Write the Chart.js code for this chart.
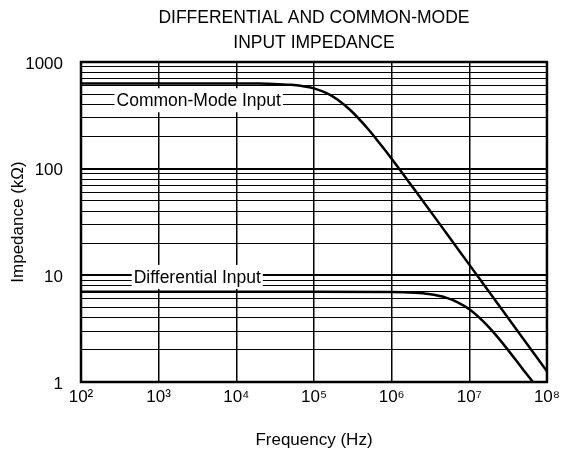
<!DOCTYPE html>
<html><head><meta charset="utf-8">
<script src="https://cdn.jsdelivr.net/npm/chart.js@4.4.1/dist/chart.umd.min.js"></script>
<style>html,body{margin:0;padding:0;background:#fff;}#wrap{width:565px;height:449px;}</style>
</head><body><div id="wrap"><canvas id="c" width="565" height="449"></canvas></div>
<script>
const titleLines = ['DIFFERENTIAL AND COMMON-MODE', 'INPUT IMPEDANCE'];
const xAxisTitle = 'Frequency (Hz)';
const yAxisTitle = 'Impedance (kΩ)';
const xTickValues = [1e2, 1e3, 1e4, 1e5, 1e6, 1e7, 1e8];
const xTickLabels = ['10²', '10³', '10⁴', '10⁵', '10⁶', '10⁷', '10⁸'];
const yTickValues = [1,2,3,4,5,6,7,8,9,10,20,30,40,50,60,70,80,90,100,200,300,400,500,600,700,800,900,1000];
const yMajorValues = [1, 10, 100, 1000];
const yMajorLabels = ['1', '10', '100', '1000'];
const seriesNames = ['Common-Mode Input', 'Differential Input'];
const cmFreq = [1e2, 1e3, 1e4, 2e4, 3e4, 5e4, 7e4, 1e5, 1.5e5, 2e5, 3e5, 5e5, 7e5, 1e6, 2e6, 5e6, 1e7, 2e7, 5e7, 1e8];
const cmZ    = [630, 630, 629, 627, 623, 611, 595, 566, 504, 445, 349, 234, 173, 124, 62.7, 25.2, 12.6, 6.3, 2.52, 1.26];
const diffFreq = [1e2, 1e3, 1e4, 1e5, 1e6, 2e6, 3e6, 5e6, 7e6, 1e7, 1.5e7, 2e7, 3e7, 5e7, 6.6e7];
const diffZ    = [7, 7, 7, 7, 6.96, 6.85, 6.67, 6.18, 5.61, 4.8, 3.72, 2.98, 2.09, 1.29, 1.0];
const labelAnchorX = [3280, 3140];
const labelAnchorY = [438, 9.66];

const FONT = '"Liberation Sans", Arial, Helvetica, sans-serif';

const bgPlugin = {
  id: 'bg',
  beforeDraw(chart) {
    const c = chart.ctx; c.save(); c.fillStyle = '#fff';
    c.fillRect(0, 0, chart.width, chart.height); c.restore();
  }
};
const labelPlugin = {
  id: 'seriesLabels',
  beforeDatasetsDraw(chart) {
    const c = chart.ctx, xs = chart.scales.x, ys = chart.scales.y;
    c.save();
    c.font = '17.5px ' + FONT;
    c.textAlign = 'center'; c.textBaseline = 'middle';
    seriesNames.forEach((name, i) => {
      const px = xs.getPixelForValue(labelAnchorX[i]);
      const py = ys.getPixelForValue(labelAnchorY[i]);
      const w = c.measureText(name).width;
      c.fillStyle = '#fff';
      c.fillRect(px - w / 2 - 2, py - 12, w + 4, 24);
      c.fillStyle = '#000';
      c.fillText(name, px, py + 1);
    });
    c.restore();
  }
};
const framePlugin = {
  id: 'frame',
  afterDatasetsDraw(chart) {
    const a = chart.chartArea, c = chart.ctx;
    c.save(); c.strokeStyle = '#000'; c.lineWidth = 2.5;
    c.strokeRect(a.left, a.top, a.right - a.left, a.bottom - a.top);
    c.restore();
  }
};

new Chart(document.getElementById('c'), {
  type: 'line',
  data: {
    datasets: [
      { label: seriesNames[0], data: cmFreq.map((f, i) => ({ x: f, y: cmZ[i] })) },
      { label: seriesNames[1], data: diffFreq.map((f, i) => ({ x: f, y: diffZ[i] })) }
    ]
  },
  options: {
    responsive: false,
    devicePixelRatio: 1,
    animation: false,
    layout: { padding: { left: 0, right: 13, top: 0, bottom: 0 } },
    elements: {
      line: { borderColor: '#000', borderWidth: 2.5, cubicInterpolationMode: 'monotone', fill: false },
      point: { radius: 0, hoverRadius: 0 }
    },
    plugins: {
      legend: { display: false },
      tooltip: { enabled: false },
      title: {
        display: true, text: titleLines, fullSize: false, color: '#000',
        font: { family: FONT, size: 17.5, weight: 'normal', lineHeight: 25 / 17.5 },
        padding: { top: 5.5, bottom: 6.5 }
      }
    },
    scales: {
      x: {
        type: 'logarithmic', min: 1e2, max: 1e8,
        afterBuildTicks: s => { s.ticks = xTickValues.map(v => ({ value: v })); },
        afterFit: s => { s.height = 67; },
        grid: { color: '#000', lineWidth: 1.5, drawTicks: false },
        border: { display: false },
        ticks: {
          color: '#000', autoSkip: false, maxRotation: 0, padding: 5,
          font: { family: FONT, size: 17 },
          callback: v => { const i = xTickValues.indexOf(v); return i >= 0 ? xTickLabels[i] : ''; }
        },
        title: {
          display: true, text: xAxisTitle, color: '#000',
          font: { family: FONT, size: 17, lineHeight: 1 }, padding: { top: 0, bottom: 0 }
        }
      },
      y: {
        type: 'logarithmic', min: 1, max: 1000,
        afterBuildTicks: s => { s.ticks = yTickValues.map(v => ({ value: v })); },
        afterFit: s => { s.width = 81; },
        grid: {
          color: '#000', drawTicks: false,
          lineWidth: ctx => (ctx.tick && yMajorValues.includes(ctx.tick.value)) ? 2 : 1
        },
        border: { display: false },
        ticks: {
          color: '#000', autoSkip: false, padding: 18, labelOffset: 2,
          font: { family: FONT, size: 17 },
          callback: v => { const i = yMajorValues.indexOf(v); return i >= 0 ? yMajorLabels[i] : ''; }
        },
        title: {
          display: true, text: yAxisTitle, color: '#000',
          font: { family: FONT, size: 17, lineHeight: 1.2 }, padding: { top: 8, bottom: 0 }
        }
      }
    }
  },
  plugins: [bgPlugin, labelPlugin, framePlugin]
});
</script></body></html>
